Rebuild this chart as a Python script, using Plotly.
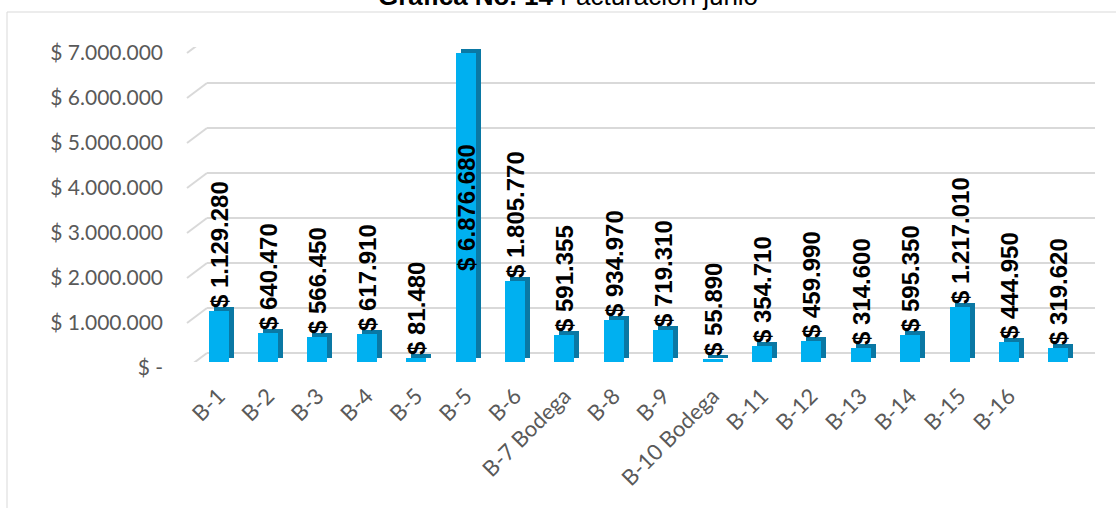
import plotly.graph_objects as go

# ---- data ----
categories = ["B-1", "B-2", "B-3", "B-4", "B-5", "B-5", "B-6", "B-7 Bodega", "B-8", "B-9",
              "B-10 Bodega", "B-11", "B-12", "B-13", "B-14", "B-15", "B-16", ""]
values = [1129280, 640470, 566450, 617910, 81480, 6876680, 1805770, 591355, 934970, 719310,
          55890, 354710, 459990, 314600, 595350, 1217010, 444950, 319620]
y_tick_vals = [0, 1000000, 2000000, 3000000, 4000000, 5000000, 6000000, 7000000]
y_tick_text = ["$ -", "$ 1.000.000", "$ 2.000.000", "$ 3.000.000", "$ 4.000.000",
               "$ 5.000.000", "$ 6.000.000", "$ 7.000.000"]
title_html = "<b>Gráfica No. 14</b> Facturación junio"

def fmt(v):
    return "$ " + f"{v:,}".replace(",", ".")

labels = [fmt(v) for v in values]

# ---- layout geometry (pixels) ----
W, H = 1116, 508
L, R, T, B = 194, 33, 47, 146
PW = W - L - R
PH = H - T - B

def px2x(p):
    return (p - L) / PW

def px2y(p):
    return (H - B - p) / PH

n = len(values)
xs = list(range(n))
unit = PW / n
front_w = 20 / unit
side_dx = 5 / unit
depth_val = 4 / PH * 7000000

big = max(values)
text_pos = ["inside" if v == big else "outside" for v in values]

fig = go.Figure()
# dark side/top (3D look)
fig.add_trace(go.Bar(
    x=xs, y=values, base=[depth_val] * n,
    width=front_w, offset=-front_w / 2 + side_dx,
    marker=dict(color="#0A78A4", line=dict(width=0)),
    hoverinfo="skip", showlegend=False,
))
# front face
fig.add_trace(go.Bar(
    x=xs, y=values,
    width=front_w, offset=-front_w / 2,
    marker=dict(color="#00B0F0", line=dict(width=0)),
    text=labels, textposition=text_pos, textangle=-90,
    insidetextanchor="middle", constraintext="none", cliponaxis=False,
    textfont=dict(family="Liberation Sans, Arial", size=24, color="black", weight="bold"),
    showlegend=False,
))

shapes = []
grid_x0, grid_x1, diag_x0 = px2x(207), px2x(1095), px2x(187)
for v in y_tick_vals:
    shapes.append(dict(type="line", xref="paper", yref="y", ysizemode="pixel", yanchor=v,
                       x0=grid_x0, x1=grid_x1, y0=9, y1=9,
                       line=dict(color="#D9D9D9", width=2), layer="below"))
    shapes.append(dict(type="line", xref="paper", yref="y", ysizemode="pixel", yanchor=v,
                       x0=diag_x0, x1=grid_x0, y0=-6, y1=9,
                       line=dict(color="#D9D9D9", width=2), layer="below"))
# chart border
shapes.append(dict(type="rect", xref="paper", yref="paper",
                   x0=px2x(7), x1=px2x(1130), y0=px2y(530), y1=px2y(12),
                   line=dict(color="#D9D9D9", width=1), layer="above"))

fig.update_layout(
    width=W, height=H,
    margin=dict(l=L, r=R, t=T, b=B),
    paper_bgcolor="white", plot_bgcolor="white",
    barmode="overlay", bargap=0,
    shapes=shapes,
    annotations=[dict(text=title_html, xref="paper", yref="paper",
                      x=px2x(568), y=1, xanchor="center", yanchor="middle",
                      yshift=T + 4, showarrow=False,
                      font=dict(family="Liberation Sans, Arial", size=26, color="black"))],
    xaxis=dict(range=[-0.5, n - 0.5], tickmode="array", tickvals=xs, ticktext=categories,
               tickangle=-45, showgrid=False, zeroline=False, showline=False, ticks="",
               ticklabelstandoff=16,
               tickfont=dict(family="Lato", size=22, color="#595959")),
    yaxis=dict(range=[0, 7000000], tickmode="array", tickvals=y_tick_vals, ticktext=y_tick_text,
               showgrid=False, zeroline=False, showline=False, ticks="",
               ticklabelstandoff=30, ticklabelshift=6,
               tickfont=dict(family="Lato", size=21, color="#595959")),
    font=dict(family="Lato"),
)

fig.write_html("out.html", config={"displayModeBar": False},
               post_script="document.body.style.margin='0px';document.body.style.overflow='hidden';")
